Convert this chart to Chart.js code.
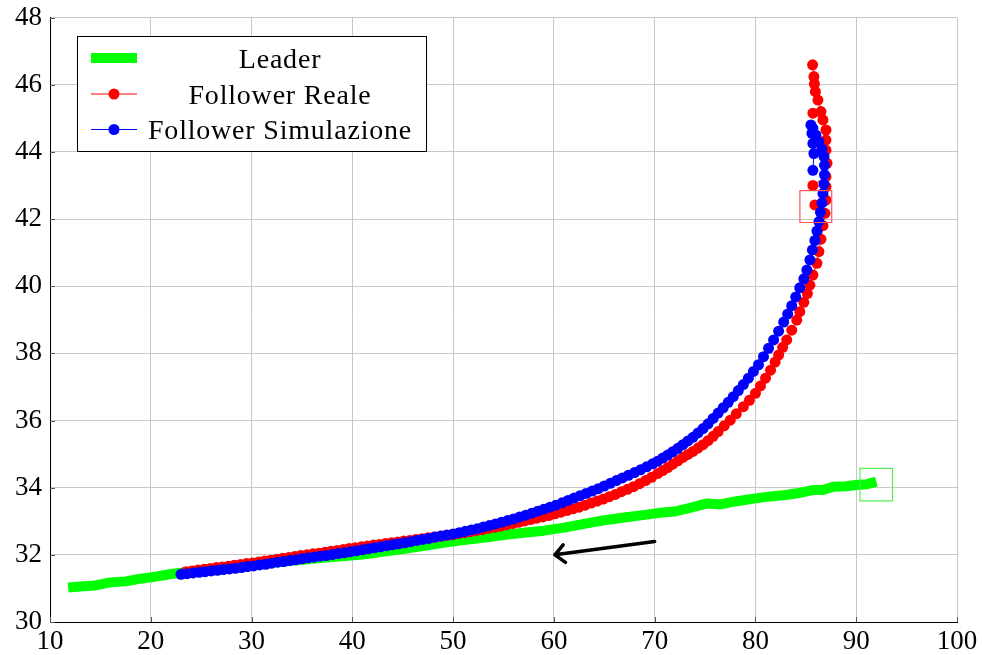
<!DOCTYPE html>
<html>
<head>
<meta charset="utf-8">
<script src="https://cdn.jsdelivr.net/npm/chart.js@4/dist/chart.umd.min.js"></script>
<style>
  html, body { margin: 0; padding: 0; background: #fff; }
</style>
</head>
<body>
<canvas id="traj" width="982" height="655"></canvas>
<script>
// traiettorie (coordinate x / y)
var xTickValues = [10, 20, 30, 40, 50, 60, 70, 80, 90, 100];
var yTickValues = [30, 32, 34, 36, 38, 40, 42, 44, 46, 48];

var leaderX = [11.8, 13.0, 14.5, 16.0, 17.5, 19.0, 20.5, 22.0, 23.5,
  25.0, 27.0, 29.0, 31.0, 33.0, 35.0, 37.0, 39.0,
  41.0, 43.0, 45.0, 47.0, 49.0, 51.0, 53.0, 55.0,
  57.0, 59.0, 61.0, 63.0, 65.0, 67.0, 69.0,
  70.5, 72.0, 73.5, 75.2, 76.5, 78.0, 80.0,
  81.5, 83.0, 84.5, 85.7, 86.7, 87.7,
  89.0, 90.0, 91.0, 92.0];
var leaderY = [31.03, 31.06, 31.09, 31.18, 31.21, 31.29, 31.35, 31.43, 31.48,
  31.54, 31.61, 31.67, 31.73, 31.79, 31.85, 31.91, 31.96,
  32.01, 32.09, 32.17, 32.26, 32.36, 32.44, 32.51, 32.59,
  32.66, 32.72, 32.81, 32.92, 33.03, 33.11, 33.19,
  33.25, 33.29, 33.40, 33.53, 33.50, 33.59, 33.68,
  33.74, 33.78, 33.85, 33.93, 33.93, 34.03,
  34.04, 34.08, 34.10, 34.18];

var realeX = [23.5, 24.1, 24.7, 25.3, 25.9, 26.5, 27.1, 27.7, 28.3, 28.9,
  29.5, 30.1, 30.7, 31.3, 31.9, 32.5, 33.1, 33.7, 34.3, 34.9,
  35.5, 36.1, 36.7, 37.3, 37.9, 38.5, 39.1, 39.7, 40.3, 40.9,
  41.5, 42.1, 42.7, 43.3, 43.9, 44.5, 45.1, 45.7, 46.3, 46.9,
  47.5, 48.1, 48.7, 49.3, 49.9, 50.5, 51.1, 51.7, 52.3, 52.9,
  53.5, 54.1, 54.7, 55.3, 55.9, 56.5, 57.1, 57.7, 58.3, 58.9,
  59.5, 60.1, 60.7, 61.3, 61.9, 62.5, 63.1, 63.7, 64.3, 64.9,
  65.5, 66.1, 66.7, 67.3, 67.9, 68.5, 69.1, 69.7, 70.3, 70.8,
  71.3, 71.8, 72.3, 72.8, 73.3, 73.8, 74.3, 74.8, 75.3, 75.8,
  76.3, 76.9, 77.5, 78.1, 78.8, 79.4, 80.0, 80.5, 81.0, 81.5,
  81.95, 82.3, 82.7, 83.1, 83.6, 84.1, 84.4, 84.8, 85.15, 85.4,
  85.7, 86.1, 86.3, 86.5, 86.7, 86.9, 85.9, 87.0, 87.0, 85.7,
  87.0, 87.1, 87.0, 87.0, 87.0, 86.7, 85.7, 86.5, 86.2, 85.95,
  85.85, 85.8, 85.67];
var realeY = [31.50, 31.52, 31.55, 31.57, 31.59, 31.62, 31.64, 31.66, 31.69, 31.71,
  31.74, 31.76, 31.79, 31.82, 31.84, 31.87, 31.90, 31.92, 31.95, 31.98,
  32.00, 32.03, 32.05, 32.08, 32.11, 32.13, 32.16, 32.19, 32.21, 32.24,
  32.26, 32.29, 32.31, 32.34, 32.36, 32.38, 32.41, 32.43, 32.46, 32.48,
  32.51, 32.53, 32.55, 32.58, 32.60, 32.63, 32.66, 32.69, 32.72, 32.75,
  32.79, 32.82, 32.85, 32.89, 32.93, 32.97, 33.01, 33.05, 33.09, 33.13,
  33.17, 33.22, 33.27, 33.32, 33.37, 33.42, 33.48, 33.54, 33.60, 33.66,
  33.73, 33.80, 33.88, 33.95, 34.03, 34.12, 34.21, 34.31, 34.42, 34.51,
  34.60, 34.70, 34.80, 34.90, 34.99, 35.08, 35.18, 35.28, 35.40, 35.53,
  35.67, 35.84, 36.01, 36.20, 36.41, 36.60, 36.81, 37.03, 37.26, 37.50,
  37.74, 37.95, 38.18, 38.40, 38.69, 38.99, 39.24, 39.52, 39.78, 40.03,
  40.33, 40.68, 41.03, 41.40, 41.80, 42.17, 42.42, 42.56, 42.96, 43.00,
  43.26, 43.66, 44.05, 44.35, 44.65, 44.95, 45.15, 45.20, 45.54, 45.79,
  46.02, 46.24, 46.59];

var simX = [23.0, 23.6, 24.2, 24.8, 25.4, 26.0, 26.6, 27.2, 27.8, 28.4,
  29.0, 29.6, 30.2, 30.8, 31.4, 32.0, 32.6, 33.2, 33.8, 34.4,
  35.0, 35.6, 36.2, 36.8, 37.4, 38.0, 38.6, 39.2, 39.8, 40.4,
  41.0, 41.6, 42.2, 42.8, 43.4, 44.0, 44.6, 45.2, 45.8, 46.4,
  47.0, 47.6, 48.2, 48.8, 49.4, 50.0, 50.6, 51.2, 51.8, 52.4,
  53.0, 53.6, 54.2, 54.8, 55.4, 56.0, 56.6, 57.2, 57.8, 58.4,
  59.0, 59.6, 60.2, 60.8, 61.4, 62.0, 62.6, 63.2, 63.8, 64.4,
  65.0, 65.6, 66.2, 66.8, 67.4, 68.0, 68.6, 69.2, 69.8, 70.3,
  70.8, 71.3, 71.8, 72.3, 72.8, 73.3, 73.8, 74.3, 74.8, 75.3,
  75.8, 76.3, 76.8, 77.3, 77.8, 78.3, 78.8, 79.3, 79.8, 80.3,
  80.8, 81.3, 81.8, 82.3, 82.8, 83.2, 83.6, 84.0, 84.4, 84.8,
  85.1, 85.4, 85.65, 85.9, 86.1, 86.3, 86.45, 86.6, 86.7, 86.8,
  86.85, 86.85, 86.8, 86.6, 86.3, 86.0, 85.7, 85.5, 85.6, 85.7,
  85.8, 85.7];
var simY = [31.42, 31.44, 31.46, 31.48, 31.50, 31.52, 31.54, 31.56, 31.58, 31.60,
  31.62, 31.65, 31.67, 31.70, 31.72, 31.75, 31.78, 31.80, 31.83, 31.85,
  31.88, 31.91, 31.93, 31.96, 31.98, 32.01, 32.04, 32.06, 32.09, 32.12,
  32.15, 32.18, 32.21, 32.24, 32.27, 32.30, 32.33, 32.36, 32.39, 32.43,
  32.46, 32.49, 32.53, 32.56, 32.59, 32.62, 32.66, 32.70, 32.74, 32.78,
  32.83, 32.87, 32.92, 32.97, 33.02, 33.07, 33.13, 33.18, 33.24, 33.30,
  33.36, 33.42, 33.48, 33.55, 33.62, 33.69, 33.76, 33.83, 33.90, 33.97,
  34.05, 34.13, 34.21, 34.29, 34.37, 34.45, 34.53, 34.62, 34.71, 34.79,
  34.88, 34.97, 35.07, 35.17, 35.28, 35.39, 35.50, 35.63, 35.76, 35.90,
  36.06, 36.22, 36.38, 36.54, 36.71, 36.89, 37.07, 37.26, 37.46, 37.66,
  37.90, 38.15, 38.40, 38.66, 38.93, 39.17, 39.42, 39.68, 39.95, 40.22,
  40.48, 40.78, 41.08, 41.36, 41.64, 41.92, 42.20, 42.48, 42.76, 43.04,
  43.32, 43.60, 43.86, 44.08, 44.30, 44.50, 44.70, 44.80, 44.55, 44.25,
  43.95, 43.45];

// riquadri di partenza e freccia di direzione
var realeStart = [85.99, 42.37];
var leaderStart = [91.99, 34.09];
var arrowFrom = [70.0, 32.4];
var arrowTo = [60.1, 32.0];

var serif = '"Liberation Serif", "Times New Roman", serif';

function toPoints(xs, ys) {
  return xs.map(function (x, i) { return { x: x, y: ys[i] }; });
}

var overlay = {
  id: 'overlay',
  beforeDatasetsDraw: function (chart) {
    // piccole tacche verso l'interno sugli assi
    var ctx = chart.ctx, a = chart.chartArea;
    var sx = chart.scales.x, sy = chart.scales.y;
    ctx.save();
    ctx.strokeStyle = '#555';
    ctx.lineWidth = 1;
    ctx.beginPath();
    xTickValues.forEach(function (v) {
      var px = Math.round(sx.getPixelForValue(v)) + 0.5;
      ctx.moveTo(px, a.bottom);
      ctx.lineTo(px, a.bottom - 5);
    });
    yTickValues.forEach(function (v) {
      var py = Math.round(sy.getPixelForValue(v)) + 0.5;
      ctx.moveTo(a.left, py);
      ctx.lineTo(a.left + 5, py);
    });
    ctx.stroke();
    ctx.restore();
  },
  afterDraw: function (chart) {
    var ctx = chart.ctx;
    var sx = chart.scales.x, sy = chart.scales.y;

    // freccia
    var x0 = sx.getPixelForValue(arrowFrom[0]), y0 = sy.getPixelForValue(arrowFrom[1]);
    var x1 = sx.getPixelForValue(arrowTo[0]), y1 = sy.getPixelForValue(arrowTo[1]);
    var ang = Math.atan2(y1 - y0, x1 - x0);
    ctx.save();
    ctx.strokeStyle = '#000';
    ctx.lineWidth = 3.5;
    ctx.lineCap = 'round';
    ctx.lineJoin = 'round';
    ctx.beginPath();
    ctx.moveTo(x0, y0);
    ctx.lineTo(x1, y1);
    ctx.moveTo(x1 - 13 * Math.cos(ang - 0.75), y1 - 13 * Math.sin(ang - 0.75));
    ctx.lineTo(x1, y1);
    ctx.lineTo(x1 - 13 * Math.cos(ang + 0.75), y1 - 13 * Math.sin(ang + 0.75));
    ctx.stroke();
    ctx.restore();

    // legenda
    var bx = 77.5, by = 36.5, bw = 349, bh = 115;
    ctx.save();
    ctx.fillStyle = '#fff';
    ctx.fillRect(bx, by, bw, bh);
    ctx.strokeStyle = '#000';
    ctx.lineWidth = 1;
    ctx.strokeRect(bx, by, bw, bh);
    var rows = [58, 94, 129.5];
    ctx.font = '28px ' + serif;
    ctx.letterSpacing = '0.8px';
    ctx.textAlign = 'center';
    ctx.textBaseline = 'alphabetic';
    chart.data.datasets.forEach(function (ds) {
      if (ds.legendRow === undefined) return;
      var ry = rows[ds.legendRow];
      ctx.strokeStyle = ds.borderColor;
      ctx.lineWidth = ds.legendRow === 0 ? 10 : 1;
      ctx.beginPath();
      ctx.moveTo(91, ry);
      ctx.lineTo(137, ry);
      ctx.stroke();
      if (ds.pointRadius > 0) {
        ctx.fillStyle = ds.pointBackgroundColor;
        ctx.beginPath();
        ctx.arc(114, ry, 5.5, 0, Math.PI * 2);
        ctx.fill();
      }
      ctx.fillStyle = '#000';
      ctx.fillText(ds.label, 280, ry + 9.5);
    });
    ctx.restore();
  }
};

var ctx = document.getElementById('traj').getContext('2d');
var chart = new Chart(ctx, {
  type: 'scatter',
  data: {
    datasets: [{
      label: 'Follower Simulazione',
      legendRow: 2,
      data: toPoints(simX, simY),
      showLine: true,
      borderColor: '#0000ff',
      borderWidth: 1,
      pointBackgroundColor: '#0000ff',
      pointBorderWidth: 0,
      pointRadius: 5.5,
      order: 1
    }, {
      label: 'Follower Reale',
      legendRow: 1,
      data: toPoints(realeX, realeY),
      showLine: true,
      borderColor: '#ff0000',
      borderWidth: 1,
      pointBackgroundColor: '#ff0000',
      pointBorderWidth: 0,
      pointRadius: 5.5,
      order: 2
    }, {
      label: 'Leader',
      legendRow: 0,
      data: toPoints(leaderX, leaderY),
      showLine: true,
      borderColor: '#00ff00',
      borderWidth: 10,
      borderCapStyle: 'butt',
      borderJoinStyle: 'round',
      pointRadius: 0,
      order: 3
    }, {
      label: 'start reale',
      data: [{ x: realeStart[0], y: realeStart[1] }],
      pointStyle: 'rect',
      pointRadius: 22.5,
      pointBorderWidth: 1.2,
      pointBorderColor: '#ff5555',
      pointBackgroundColor: 'rgba(0,0,0,0)',
      order: 0
    }, {
      label: 'start leader',
      data: [{ x: leaderStart[0], y: leaderStart[1] }],
      pointStyle: 'rect',
      pointRadius: 23,
      pointBorderWidth: 1.2,
      pointBorderColor: '#55ee55',
      pointBackgroundColor: 'rgba(0,0,0,0)',
      order: 0
    }]
  },
  options: {
    responsive: false,
    animation: false,
    events: [],
    layout: { autoPadding: false, padding: { top: 17.5, right: 25, left: 0, bottom: 0 } },
    plugins: {
      legend: { display: false },
      tooltip: { enabled: false }
    },
    scales: {
      x: {
        type: 'linear',
        min: 10,
        max: 100,
        afterBuildTicks: function (axis) {
          axis.ticks = xTickValues.map(function (v) { return { value: v }; });
        },
        afterFit: function (axis) { axis.height = 33; },
        grid: { color: '#c8c8c8', lineWidth: 1, drawTicks: false },
        border: { color: '#000', width: 1 },
        ticks: {
          color: '#000',
          padding: 4,
          maxRotation: 0,
          font: { family: serif, size: 27 }
        }
      },
      y: {
        type: 'linear',
        min: 30,
        max: 48,
        afterBuildTicks: function (axis) {
          axis.ticks = yTickValues.map(function (v) { return { value: v }; });
        },
        afterFit: function (axis) { axis.width = 50; },
        grid: { color: '#c8c8c8', lineWidth: 1, drawTicks: false },
        border: { color: '#000', width: 1 },
        ticks: {
          color: '#000',
          padding: 8,
          font: { family: serif, size: 27, lineHeight: 0.6 }
        }
      }
    }
  },
  plugins: [overlay]
});
</script>
</body>
</html>
